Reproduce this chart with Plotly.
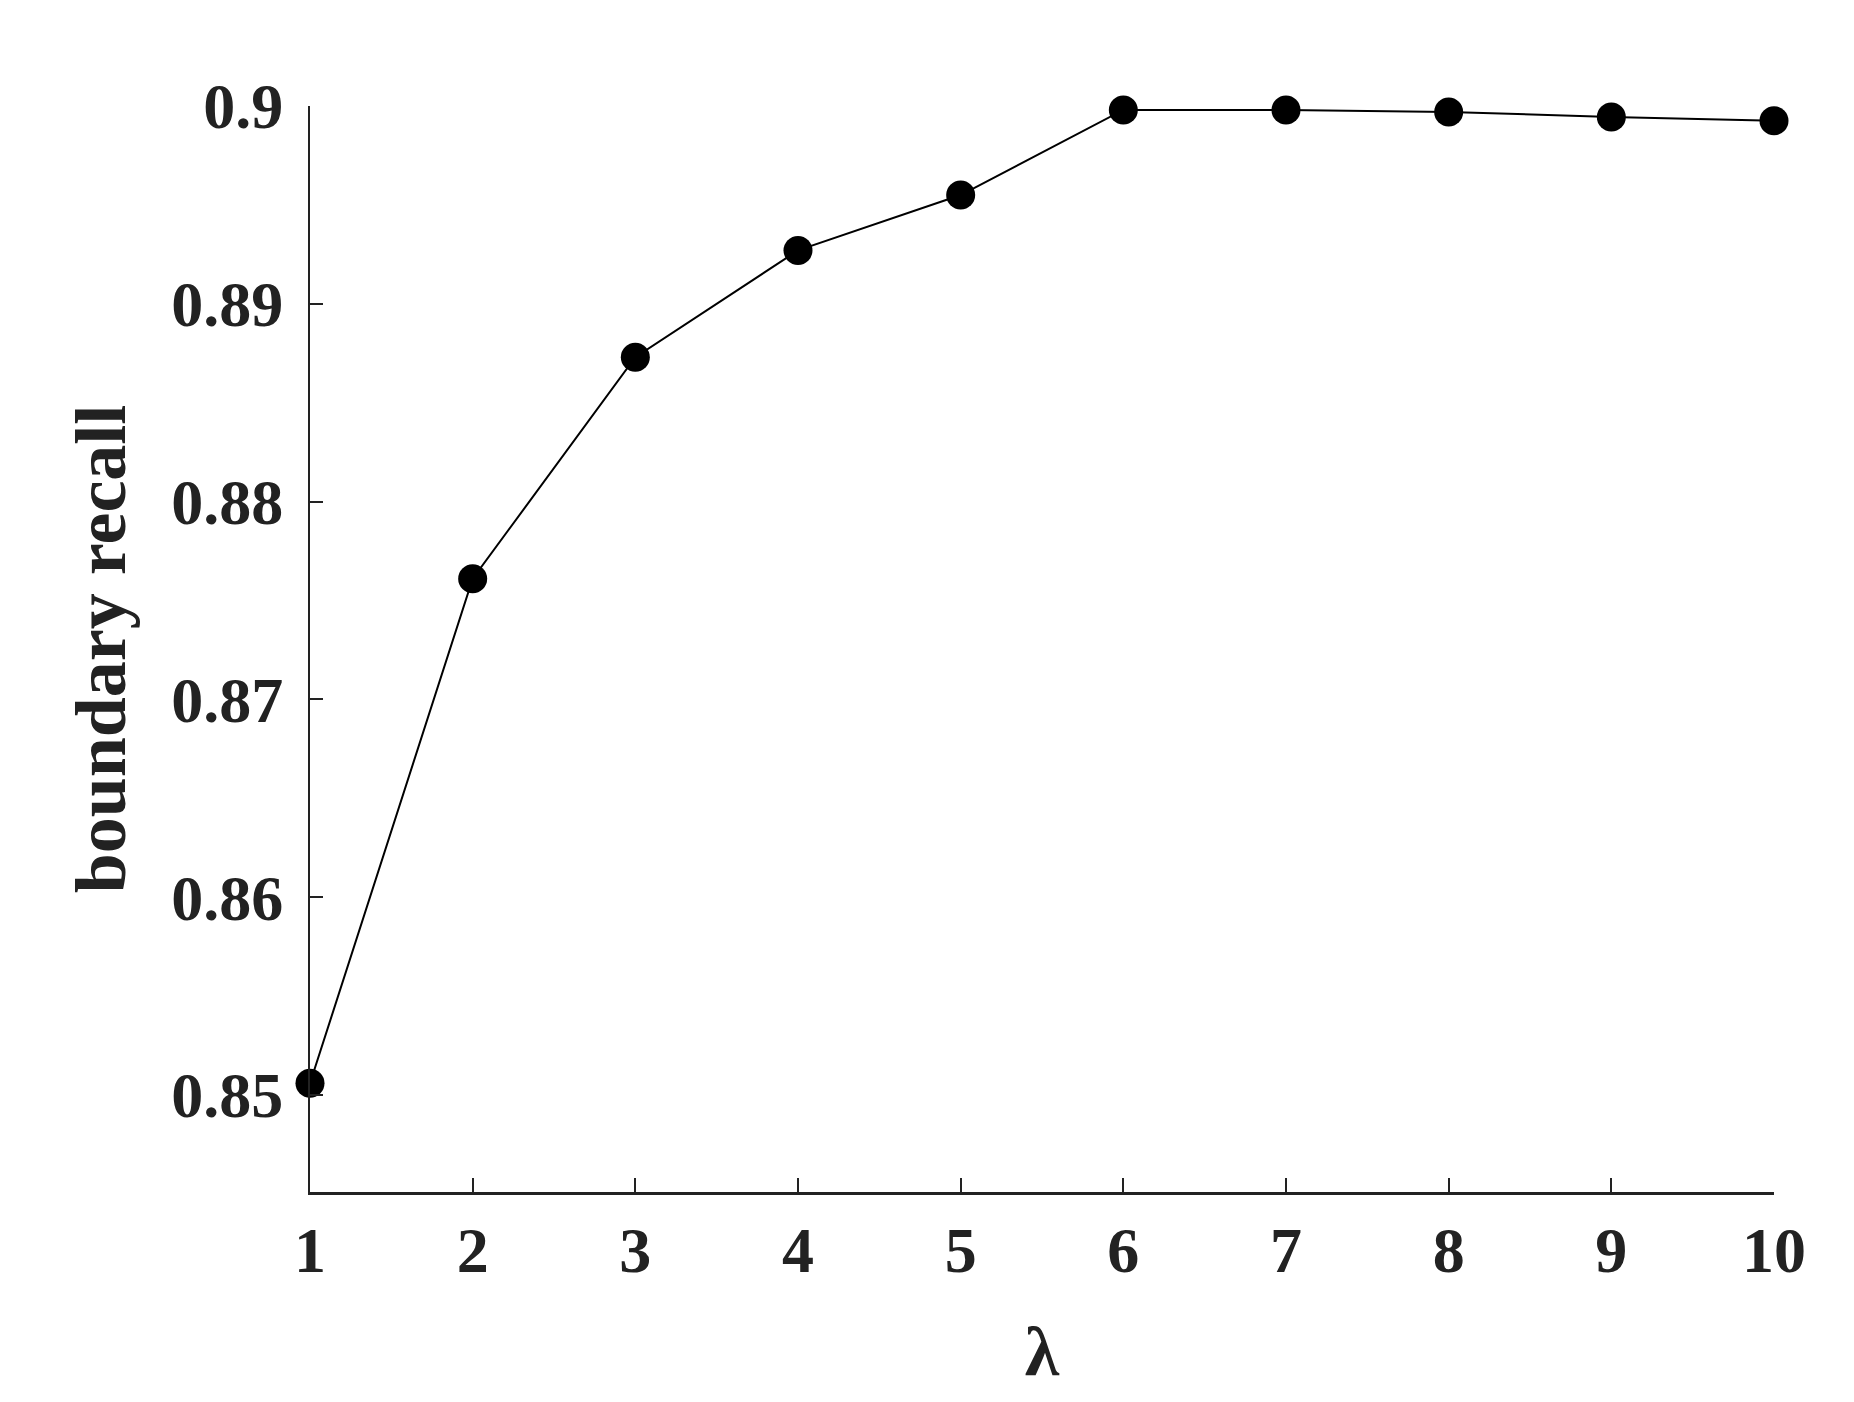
import plotly.graph_objects as go

lam = [1, 2, 3, 4, 5, 6, 7, 8, 9, 10]
recall = [0.8506, 0.8761, 0.8873, 0.8927, 0.8955, 0.8998, 0.8998, 0.8997, 0.89945, 0.89925]
y_ticks = [0.85, 0.86, 0.87, 0.88, 0.89, 0.9]
y_tick_text = ["0.85", "0.86", "0.87", "0.88", "0.89", "0.9"]
x_ticks = lam
x_tick_text = [str(v) for v in lam]

FONT = "Liberation Serif"
TXT = "#222222"

fig = go.Figure()
fig.add_trace(go.Scatter(
    x=lam, y=recall, mode="lines+markers",
    line=dict(color="black", width=2),
    marker=dict(color="black", size=29, symbol="circle"),
    cliponaxis=False, showlegend=False,
))

fig.update_layout(
    width=1854, height=1402,
    margin=dict(l=302, r=88, t=98, b=218),
    paper_bgcolor="white", plot_bgcolor="white",
    font=dict(family=FONT, color=TXT),
    xaxis=dict(
        range=[1, 10], tickvals=x_ticks, ticktext=x_tick_text,
        showgrid=False, zeroline=False,
        showline=True, linecolor="#222222", linewidth=3,
        ticks="inside", ticklen=14, tickwidth=2, tickcolor="#222222",
        tickfont=dict(family=FONT, size=64, color=TXT, weight="bold"),
        ticklabelstandoff=0,
        title=dict(text="λ", font=dict(family=FONT, size=70, color=TXT, weight="bold"), standoff=42),
    ),
    yaxis=dict(
        range=[0.8451, 0.9], tickvals=y_ticks, ticktext=y_tick_text,
        showgrid=False, zeroline=False,
        showline=True, linecolor="#222222", linewidth=2,
        ticks="inside", ticklen=13, tickwidth=2, tickcolor="#222222",
        tickfont=dict(family=FONT, size=64, color=TXT, weight="bold"),
        ticklabelstandoff=12,
        title=dict(text="boundary recall", font=dict(family=FONT, size=72, color=TXT, weight="bold"), standoff=22),
    ),
)

fig.write_html("out.html")
